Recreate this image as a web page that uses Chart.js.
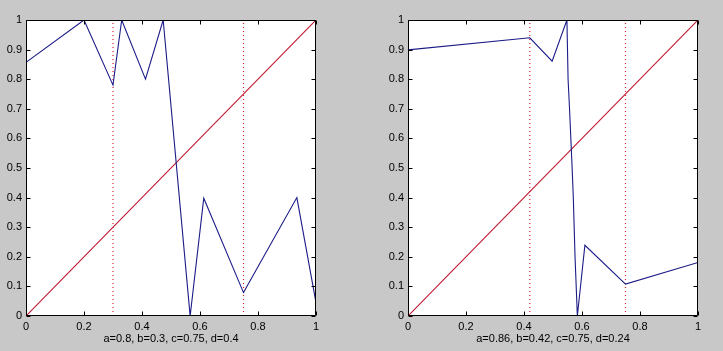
<!DOCTYPE html>
<html>
<head>
<meta charset="utf-8">
<script src="https://cdn.jsdelivr.net/npm/chart.js@4.4.1/dist/chart.umd.min.js"></script>
<style>
  html, body { margin: 0; padding: 0; background: #c8c8c8; }
  #wrap { position: relative; width: 723px; height: 351px; background: #c8c8c8; }
  .box { position: absolute; top: 0; height: 351px; }
</style>
</head>
<body>
<div id="wrap">
  <div class="box" style="left:0;width:361px"><canvas id="leftChart"></canvas></div>
  <div class="box" style="left:361px;width:362px"><canvas id="rightChart"></canvas></div>
</div>
<script>
// Data
const xTicks = [0, 0.2, 0.4, 0.6, 0.8, 1];
const yTicks = [0, 0.1, 0.2, 0.3, 0.4, 0.5, 0.6, 0.7, 0.8, 0.9, 1];

// left panel: a=0.8, b=0.3, c=0.75, d=0.4
const leftX = [0, 0.2, 0.3, 0.33, 0.412, 0.473, 0.566, 0.613, 0.75, 0.934, 1];
const leftY = [0.857, 1, 0.78, 1, 0.8, 1, 0, 0.398, 0.079, 0.4, 0.045];
const leftMarks = [0.3, 0.75];
const leftLabel = 'a=0.8, b=0.3, c=0.75, d=0.4';

// right panel: a=0.86, b=0.42, c=0.75, d=0.24
const rightX = [0, 0.42, 0.497, 0.548, 0.552, 0.557, 0.566, 0.570, 0.576, 0.584, 0.61, 0.75, 1];
const rightY = [0.899, 0.94, 0.861, 1, 0.8, 0.7, 0.5, 0.4, 0.2, 0, 0.239, 0.108, 0.181];
const rightMarks = [0.42, 0.75];
const rightLabel = 'a=0.86, b=0.42, c=0.75, d=0.24';

// identity line
const diagX = [0, 1];
const diagY = [0, 1];

const FONT = { family: "'Liberation Sans', Arial, sans-serif", size: 11 };

// white axes background + MATLAB style box with inward ticks
const boxPlugin = {
    id: 'matlabBox',
    beforeDatasetsDraw(chart) {
        const { ctx, chartArea: a } = chart;
        ctx.save();
        ctx.fillStyle = '#fff';
        ctx.fillRect(a.left, a.top, a.right - a.left, a.bottom - a.top);
        ctx.restore();
    },
    afterDatasetsDraw(chart) {
        const { ctx, chartArea: a, scales } = chart;
        const L = Math.round(a.left) + 0.5, R = Math.round(a.right) - 0.5;
        const T = Math.round(a.top) + 0.5, B = Math.round(a.bottom) - 0.5;
        const len = 4;
        ctx.save();
        ctx.strokeStyle = '#000';
        ctx.lineWidth = 1;
        ctx.setLineDash([]);
        ctx.beginPath();
        ctx.rect(L, T, R - L, B - T);
        scales.x.ticks.forEach(t => {
            const px = Math.round(scales.x.getPixelForValue(t.value)) + 0.5;
            ctx.moveTo(px, B); ctx.lineTo(px, B - len);
            ctx.moveTo(px, T); ctx.lineTo(px, T + len);
        });
        scales.y.ticks.forEach(t => {
            const py = Math.round(scales.y.getPixelForValue(t.value)) + 0.5;
            ctx.moveTo(L, py); ctx.lineTo(L + len, py);
            ctx.moveTo(R, py); ctx.lineTo(R - len, py);
        });
        ctx.stroke();
        ctx.restore();
    }
};

function toPoints(xs, ys) {
    return xs.map((x, i) => ({ x: x, y: ys[i] }));
}

function makeChart(id, xs, ys, marks, label, yWidth, rightPad) {
    const datasets = [];
    datasets.push({
        data: toPoints(xs, ys),
        borderColor: '#1c1c88',
        borderWidth: 1.1
    });
    datasets.push({
        data: toPoints(diagX, diagY),
        borderColor: '#c01830',
        borderWidth: 1.1
    });
    marks.forEach(m => {
        datasets.push({
            data: [{ x: m, y: 0 }, { x: m, y: 1 }],
            borderColor: '#d82030',
            borderWidth: 1.2,
            borderDash: [1, 3]
        });
    });

    return new Chart(document.getElementById(id), {
        type: 'line',
        data: { datasets: datasets },
        options: {
            responsive: true,
            maintainAspectRatio: false,
            animation: false,
            layout: { padding: { top: 20, right: rightPad, left: 0, bottom: 0 } },
            elements: { point: { radius: 0 }, line: { tension: 0 } },
            plugins: { legend: { display: false }, tooltip: { enabled: false } },
            scales: {
                x: {
                    type: 'linear',
                    min: 0, max: 1,
                    grid: { display: false, drawTicks: false },
                    border: { display: false },
                    afterBuildTicks: s => { s.ticks = xTicks.map(v => ({ value: v })); },
                    afterFit: s => { s.height = 35; },
                    ticks: {
                        color: '#000', font: FONT, padding: 4, maxRotation: 0,
                        callback: v => String(v)
                    },
                    title: {
                        display: true, text: label, color: '#000', font: FONT,
                        padding: { top: 0, bottom: 5 }
                    }
                },
                y: {
                    min: 0, max: 1,
                    grid: { display: false, drawTicks: false },
                    border: { display: false },
                    afterBuildTicks: s => { s.ticks = yTicks.map(v => ({ value: v })); },
                    afterFit: s => { s.width = yWidth; },
                    ticks: {
                        color: '#000', font: FONT, padding: 4,
                        callback: v => String(v)
                    }
                }
            }
        },
        plugins: [boxPlugin]
    });
}

makeChart('leftChart', leftX, leftY, leftMarks, leftLabel, 26, 45);
makeChart('rightChart', rightX, rightY, rightMarks, rightLabel, 47, 25);
</script>
</body>
</html>
